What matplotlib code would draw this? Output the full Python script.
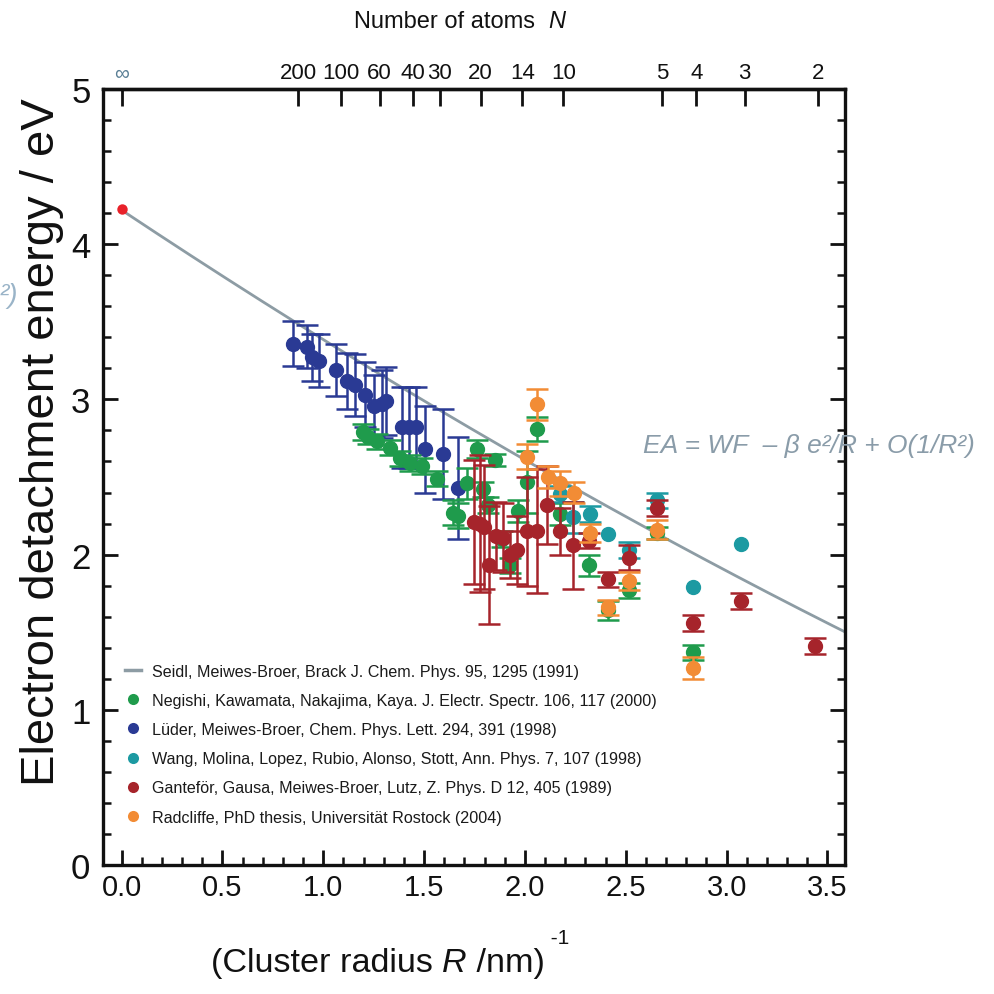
import matplotlib
matplotlib.use('Agg')
import matplotlib.pyplot as plt
from matplotlib import font_manager
from matplotlib.lines import Line2D
from matplotlib.ticker import MultipleLocator
import numpy as np

# ---------------- data ----------------
# Lüder, Meiwes-Broer (blue)
luder_x = [0.852, 0.918, 0.946, 0.981, 1.063, 1.117, 1.158, 1.209, 1.250, 1.292, 1.312,
           1.389, 1.425, 1.460, 1.503, 1.592, 1.670]
luder_y = [3.36, 3.34, 3.27, 3.25, 3.19, 3.12, 3.09, 3.03, 2.96, 2.97, 2.99,
           2.82, 2.82, 2.82, 2.68, 2.65, 2.43]
luder_err = [0.145, 0.14, 0.15, 0.17, 0.17, 0.18, 0.20, 0.21, 0.20, 0.22, 0.22,
             0.26, 0.26, 0.26, 0.28, 0.29, 0.33]

# Negishi, Kawamata, Nakajima, Kaya (green)
negishi_x = [1.199, 1.224, 1.265, 1.331, 1.381, 1.430, 1.488, 1.563, 1.645, 1.670,
             1.711, 1.761, 1.794, 1.819, 1.852, 1.885, 1.926, 1.967, 2.009, 2.058,
             2.174, 2.319, 2.414, 2.518, 2.657, 2.832]
negishi_y = [2.79, 2.76, 2.73, 2.69, 2.62, 2.59, 2.57, 2.49, 2.27, 2.25,
             2.46, 2.68, 2.42, 2.32, 2.61, 2.10, 1.93, 2.28, 2.47, 2.81,
             2.26, 1.93, 1.64, 1.77, 2.14, 1.37]
negishi_err = [0.05, 0.05, 0.05, 0.05, 0.05, 0.05, 0.05, 0.05, 0.08, 0.08,
               0.10, 0.06, 0.05, 0.05, 0.04, 0.05, 0.05, 0.07, 0.20, 0.075,
               0.07, 0.07, 0.06, 0.05, 0.04, 0.05]

# Wang, Molina, Lopez, Rubio, Alonso, Stott (cyan); 0 = no error bar shown
wang_x = [2.174, 2.240, 2.323, 2.414, 2.518, 2.657, 2.832, 3.070]
wang_y = [2.39, 2.24, 2.26, 2.13, 2.03, 2.35, 1.79, 2.07]
wang_err = [0.05, 0.10, 0.05, 0.0, 0.05, 0.05, 0.0, 0.0]

# Gantefoer, Gausa, Meiwes-Broer, Lutz (dark red)
gantefor_x = [1.749, 1.777, 1.799, 1.823, 1.857, 1.890, 1.926, 1.959, 2.009, 2.058,
              2.108, 2.174, 2.240, 2.319, 2.414, 2.518, 2.657, 2.832, 3.070, 3.440]
gantefor_y = [2.21, 2.20, 2.18, 1.93, 2.12, 2.11, 2.00, 2.03, 2.15, 2.15,
              2.32, 2.15, 2.06, 2.09, 1.84, 1.98, 2.30, 1.56, 1.70, 1.41]
gantefor_err = [0.40, 0.44, 0.40, 0.38, 0.22, 0.22, 0.15, 0.22, 0.35, 0.40,
                0.25, 0.15, 0.28, 0.05, 0.05, 0.08, 0.05, 0.05, 0.05, 0.05]

# Radcliffe (orange)
radcliffe_x = [2.009, 2.058, 2.116, 2.174, 2.245, 2.323, 2.414, 2.518, 2.657, 2.832]
radcliffe_y = [2.63, 2.97, 2.50, 2.46, 2.40, 2.14, 1.66, 1.83, 2.16, 1.27]
radcliffe_err = [0.08, 0.10, 0.07, 0.08, 0.07, 0.06, 0.05, 0.06, 0.06, 0.07]

# bulk work function point (N = infinity)
bulk_x = [0.0]
bulk_y = [4.23]

# model line EA = WF - a/R + b/R^2
WF, a_coef, b_coef = 4.22, 0.864, 0.0296

# top axis: number of atoms N
top_labels = ['\u221e', '200', '100', '60', '40', '30', '20', '14', '10', '5', '4', '3', '2']
top_pos = [0.0, 0.876, 1.088, 1.280, 1.445, 1.577, 1.780, 1.987, 2.190, 2.680, 2.850, 3.090, 3.455]

legend_labels = [
    'Seidl, Meiwes-Broer, Brack J. Chem. Phys. 95, 1295 (1991)',
    'Negishi, Kawamata, Nakajima, Kaya. J. Electr. Spectr. 106, 117 (2000)',
    'Lüder, Meiwes-Broer, Chem. Phys. Lett. 294, 391 (1998)',
    'Wang, Molina, Lopez, Rubio, Alonso, Stott, Ann. Phys. 7, 107 (1998)',
    'Ganteför, Gausa, Meiwes-Broer, Lutz, Z. Phys. D 12, 405 (1989)',
    'Radcliffe, PhD thesis, Universität Rostock (2004)',
]

# ---------------- style ----------------
C_GREEN = '#1f9b4c'
C_BLUE = '#2a3a94'
C_CYAN = '#1c9aa2'
C_RED = '#a6242b'
C_ORANGE = '#f28c35'
C_LINE = '#8d9ca4'
C_EQ = '#8a9ca9'
C_BULK = '#e8222a'

names = {f.name for f in font_manager.fontManager.ttflist}
HAS_NARROW = 'Liberation Sans Narrow' in names
NARROW = (['Liberation Sans Narrow'] if HAS_NARROW else []) + ['Liberation Sans', 'DejaVu Sans']
REG = ['Liberation Sans', 'DejaVu Sans']
k = 1.16 if HAS_NARROW else 1.0

W, H = 994, 995
fig = plt.figure(figsize=(W / 100, H / 100), dpi=100)
ax = fig.add_axes([103 / W, 1 - 866 / H, (845 - 103) / W, (866 - 90) / H])
ax.set_xlim(-0.092, 3.587)
ax.set_ylim(0, 5)

xx = np.linspace(0, 3.7, 300)
ax.plot(xx, WF - a_coef * xx + b_coef * xx ** 2, color=C_LINE, lw=2.0, zorder=1, solid_capstyle='butt')

eb = dict(fmt='o', ms=10, capsize=8, elinewidth=1.8, capthick=1.8)
for xs, ys, es, c, z in [(luder_x, luder_y, luder_err, C_BLUE, 3),
                         (negishi_x, negishi_y, negishi_err, C_GREEN, 4),
                         (wang_x, wang_y, wang_err, C_CYAN, 5),
                         (gantefor_x, gantefor_y, gantefor_err, C_RED, 6),
                         (radcliffe_x, radcliffe_y, radcliffe_err, C_ORANGE, 7)]:
    e = np.asarray(es, dtype=float)
    e = np.where(e > 0, e, np.nan)
    ax.errorbar(xs, ys, yerr=e, color=c, mec=c, mfc=c, zorder=z, **eb)
ax.plot(bulk_x, bulk_y, 'o', color=C_BULK, ms=7.5, mew=0, zorder=8)

# ticks
ax.xaxis.set_major_locator(MultipleLocator(0.5))
ax.xaxis.set_minor_locator(MultipleLocator(0.1))
ax.yaxis.set_major_locator(MultipleLocator(1))
ax.yaxis.set_minor_locator(MultipleLocator(0.2))
ax.tick_params(which='both', direction='in', top=False, right=True, colors='#111111')
ax.tick_params(which='major', length=11, width=2.0)
ax.tick_params(which='minor', length=6, width=1.8)
ax.tick_params(axis='x', which='major', pad=6)
ax.tick_params(axis='y', which='major', pad=9)
ax.set_xticks([0, 0.5, 1.0, 1.5, 2.0, 2.5, 3.0, 3.5])
ax.set_xticklabels(['0.0', '0.5', '1.0', '1.5', '2.0', '2.5', '3.0', '3.5'])
for lab in ax.get_xticklabels():
    lab.set_fontfamily(NARROW)
    lab.set_fontsize(21 * k)
for lab in ax.get_yticklabels():
    lab.set_fontfamily(NARROW)
    lab.set_fontsize(25 * k)
for sp in ax.spines.values():
    sp.set_linewidth(2.4)
    sp.set_color('#111111')

sec = ax.secondary_xaxis('top')
sec.set_xticks(top_pos)
sec.set_xticklabels(top_labels)
sec.tick_params(direction='in', length=12, width=2.0, pad=4, colors='#111111')
for lab in sec.get_xticklabels():
    lab.set_fontfamily(NARROW)
    lab.set_fontsize(16 * k)
sec.get_xticklabels()[0].set_fontsize(15)
sec.get_xticklabels()[0].set_color('#5a7f95')
sec.spines['top'].set_linewidth(2.4)

# legend
handles = [Line2D([], [], color=C_LINE, lw=2.5)]
for c in [C_GREEN, C_BLUE, C_CYAN, C_RED, C_ORANGE]:
    handles.append(Line2D([], [], ls='none', marker='o', ms=8, color=c, mew=0))
leg = ax.legend(handles, legend_labels, loc='upper left', bbox_to_anchor=(0.01, 0.278),
                frameon=False, handlelength=1.0, handletextpad=0.7, labelspacing=0.88,
                prop={'family': NARROW, 'size': 11.6 * k})
for t in leg.get_texts():
    t.set_color('#1a1a1a')

# texts
fig.text(42 / W, 1 - 442 / H, 'Electron detachment energy / eV', rotation=90,
         ha='center', va='center', fontsize=34, family=REG, color='#111111')

fig.canvas.draw()
rend = fig.canvas.get_renderer()


def rich(x_center_px, y_base_px, pieces, **common):
    """Draw text pieces one after another, centred at x_center_px."""
    objs = []
    for s, kw in pieces:
        o = dict(common)
        kw = dict(kw)
        dy = kw.pop('dy', 0)
        o.update(kw)
        t = fig.text(0, 0, s, ha='left', va='baseline', **o)
        objs.append((t, dy))
    widths = [t.get_window_extent(rend).width for t, _ in objs]
    x = x_center_px - sum(widths) / 2
    for (t, dy), w in zip(objs, widths):
        t.set_position((x / W, 1 - (y_base_px - dy) / H))
        x += w


rich(390, 972, [('(Cluster radius ', {}), ('R', {'style': 'italic'}),
                (' /nm)', {}), (' -1', {'fontsize': 15 * k, 'dy': 28})],
     fontsize=24.6 * k, family=NARROW, color='#111111')
rich(460, 28, [('Number of atoms  ', {}), ('N', {'style': 'italic'})],
     fontsize=17 * k, family=NARROW, color='#111111')

fig.text(643 / W, 1 - 453 / H, 'EA = WF  \u2013 \u03b2 e\u00b2/R + O(1/R\u00b2)', ha='left',
         va='baseline', fontsize=19 * k, family=NARROW, style='italic', color=C_EQ)
fig.text(0 / W, 1 - 303 / H, '\u00b2)', ha='left', va='baseline', fontsize=20 * k,
         family=NARROW, style='italic', color='#9ab4c8')

fig.savefig('out.png', dpi=100)
